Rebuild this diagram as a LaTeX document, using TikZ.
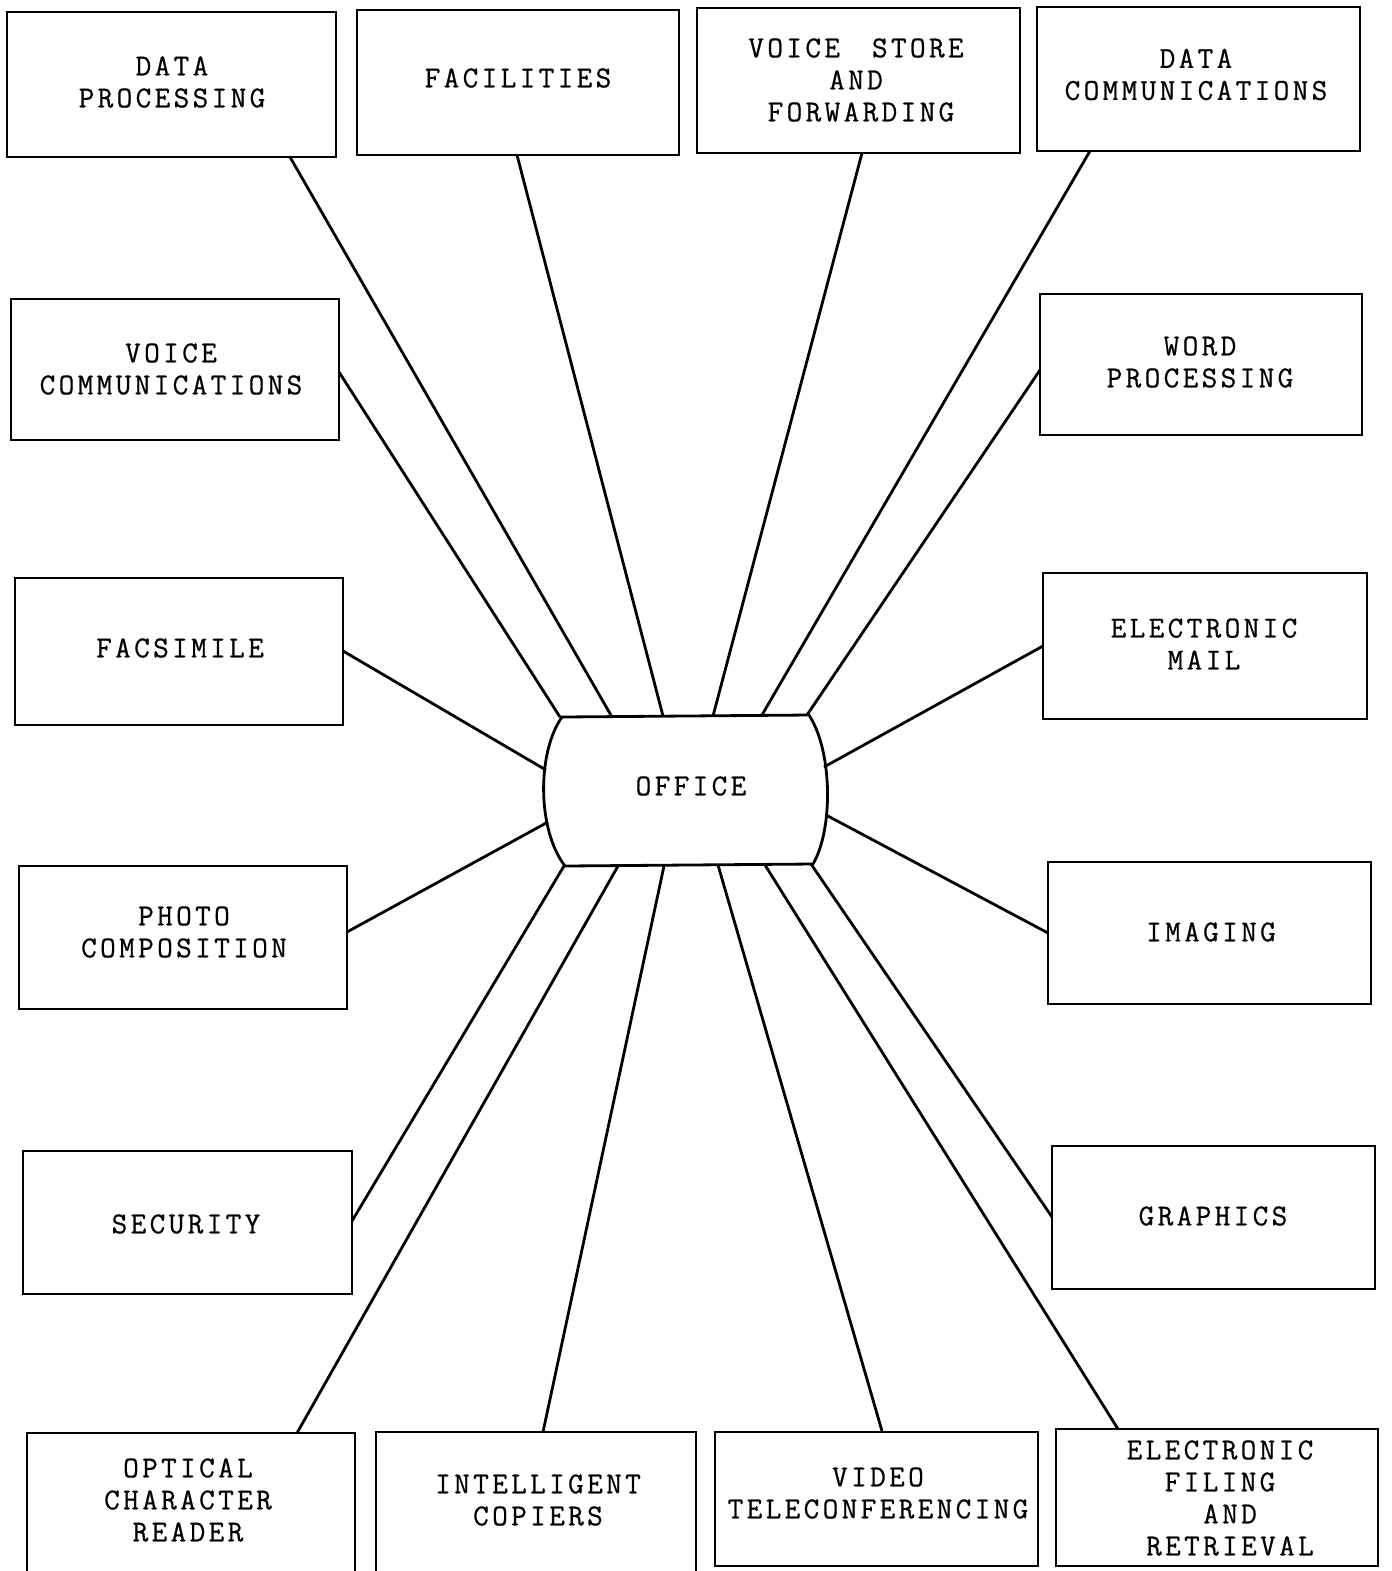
\documentclass[tikz,border=0pt]{standalone}
\usepackage{fontspec}
\newfontfamily\twfont{Latin Modern Mono}[LetterSpace=11,FakeBold=0.6]
\begin{document}
\begin{tikzpicture}[x=0.5pt,y=-0.5pt,
  box/.style={draw, line width=1.4pt, inner sep=0pt, outer sep=0pt, rectangle},
  lbl/.style={font=\twfont\fontsize{15.2}{16}\selectfont, align=center, inner sep=0pt},
  link/.style={line width=1.4pt}]
\useasboundingbox (0,0) rectangle (1392,1571);
\clip (0,0) rectangle (1392,1571);
\fill[white] (0,0) rectangle (1392,1571);

% boxes
\node[box, minimum width=164.5pt, minimum height=72.5pt] (dp) at (171.5,84.5) {};
\node[box, minimum width=161pt, minimum height=72.5pt] (fac) at (518,82.5) {};
\node[box, minimum width=161.5pt, minimum height=72.5pt] (vsf) at (858.5,80.5) {};
\node[box, minimum width=161.5pt, minimum height=72pt] (dc) at (1198.5,79) {};
\node[box, minimum width=164pt, minimum height=70.5pt] (vc) at (175,369.5) {};
\node[box, minimum width=164pt, minimum height=73.5pt] (fax) at (179,651.5) {};
\node[box, minimum width=164pt, minimum height=71.5pt] (pc) at (183,937.5) {};
\node[box, minimum width=164.5pt, minimum height=71.5pt] (sec) at (187.5,1222.5) {};
\node[box, minimum width=164pt, minimum height=93.5pt] (ocr) at (191,1526.5) {};
\node[box, minimum width=160pt, minimum height=94pt] (ic) at (536,1526) {};
\node[box, minimum width=161.5pt, minimum height=67pt] (vt) at (876.5,1499) {};
\node[box, minimum width=161pt, minimum height=68.5pt] (efr) at (1217,1497.5) {};
\node[box, minimum width=161pt, minimum height=70.5pt] (wp) at (1201,364.5) {};
\node[box, minimum width=162pt, minimum height=73pt] (em) at (1205,646) {};
\node[box, minimum width=161.5pt, minimum height=71pt] (img) at (1209.5,933) {};
\node[box, minimum width=161.5pt, minimum height=71.5pt] (gr) at (1213.5,1217.5) {};

% labels
\node[lbl] (dp-t) at (172,82) {DATA\\PROCESSING};
\node[lbl] (fac-t) at (518,78) {FACILITIES};
\node[lbl] (vsf-t) at (856,80) {VOICE\hspace{16pt}STORE\\AND\hspace*{9pt}\\\hspace*{5pt}FORWARDING};
\node[lbl] (dc-t) at (1196,74.5) {DATA\\COMMUNICATIONS};
\node[lbl] (vc-t) at (171,369) {VOICE\\COMMUNICATIONS};
\node[lbl] (fax-t) at (180,648) {FACSIMILE};
\node[lbl] (pc-t) at (184,932) {PHOTO\\COMPOSITION};
\node[lbl] (sec-t) at (186,1224) {SECURITY};
\node[lbl] (ocr-t) at (188,1500) {OPTICAL\\CHARACTER\\READER};
\node[lbl] (ic-t) at (538,1500) {INTELLIGENT\\COPIERS};
\node[lbl] (vt-t) at (878,1493) {VIDEO\\TELECONFERENCING};
\node[lbl] (efr-t) at (1220,1498) {ELECTRONIC\\FILING\\\hspace*{10pt}AND\\\hspace*{10pt}RETRIEVAL};
\node[lbl] (wp-t) at (1200,362) {WORD\\PROCESSING};
\node[lbl] (em-t) at (1204,644) {ELECTRONIC\\MAIL};
\node[lbl] (img-t) at (1211,932) {IMAGING};
\node[lbl] (gr-t) at (1213,1216) {GRAPHICS};

% office shape
\coordinate (oTL) at (562,717);
\coordinate (oTR) at (809,715);
\coordinate (oBR) at (813,864);
\coordinate (oBL) at (565,866);
\draw[link, fill=white] (oTL) -- (oTR) .. controls (833,752) and (833,830) .. (oBR)
  -- (oBL) .. controls (537,830) and (537,752) .. (oTL) -- cycle;
\node[lbl] (office) at (691,786) {OFFICE};

% attachment points on boxes
\coordinate (dp-a) at (290,157);
\coordinate (fac-a) at (517,155);
\coordinate (vsf-a) at (862,153);
\coordinate (dc-a) at (1090,151);
\coordinate (vc-a) at (339,372);
\coordinate (wp-a) at (1040,370);
\coordinate (fax-a) at (343,651);
\coordinate (em-a) at (1043,646);
\coordinate (pc-a) at (347,932);
\coordinate (img-a) at (1048,933);
\coordinate (sec-a) at (352,1221);
\coordinate (gr-a) at (1052,1217);
\coordinate (ocr-a) at (297,1433);
\coordinate (ic-a) at (543,1432);
\coordinate (vt-a) at (882,1431);
\coordinate (efr-a) at (1118,1429);

% attachment points on office
\coordinate (o-vc) at (560,717);
\coordinate (o-dp) at (612,717);
\coordinate (o-fac) at (663,716);
\coordinate (o-vsf) at (713,716);
\coordinate (o-dc) at (762,715);
\coordinate (o-wp) at (807,715);
\coordinate (o-fax) at (546,770);
\coordinate (o-em) at (824,767);
\coordinate (o-pc) at (548,822);
\coordinate (o-img) at (826,815);
\coordinate (o-sec) at (564,866);
\coordinate (o-ocr) at (618,866);
\coordinate (o-ic) at (664,866);
\coordinate (o-vt) at (718,865);
\coordinate (o-efr) at (765,865);
\coordinate (o-gr) at (811,864);

% connectors
\draw[link] (dp-a) -- (o-dp);
\draw[link] (fac-a) -- (o-fac);
\draw[link] (vsf-a) -- (o-vsf);
\draw[link] (dc-a) -- (o-dc);
\draw[link] (vc-a) -- (o-vc);
\draw[link] (wp-a) -- (o-wp);
\draw[link] (fax-a) -- (o-fax);
\draw[link] (em-a) -- (o-em);
\draw[link] (pc-a) -- (o-pc);
\draw[link] (img-a) -- (o-img);
\draw[link] (sec-a) -- (o-sec);
\draw[link] (gr-a) -- (o-gr);
\draw[link] (ocr-a) -- (o-ocr);
\draw[link] (ic-a) -- (o-ic);
\draw[link] (vt-a) -- (o-vt);
\draw[link] (efr-a) -- (o-efr);
\end{tikzpicture}
\end{document}
